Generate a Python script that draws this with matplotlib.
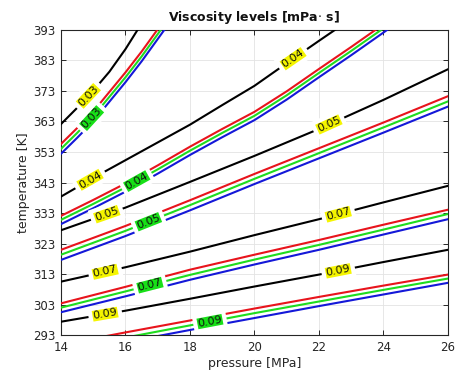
import numpy as np
import matplotlib
matplotlib.use("Agg")
import matplotlib.pyplot as plt

# viscosity levels [mPa s]
levels = ["0.03", "0.04", "0.05", "0.07", "0.09"]

# pressure grids [MPa] for each level
p_003 = [14, 14.5, 15, 15.5, 16, 16.5, 17, 17.5]
p_004 = [14, 15, 16, 17, 18, 19, 20, 21, 22, 23, 24, 25]
p_005 = [14, 16, 18, 20, 22, 24, 26]
p_007 = [14, 16, 18, 20, 22, 24, 26]
p_009 = [14, 16, 18, 20, 22, 24, 26]

# temperature [K] of each contour (black set, and red / green / blue set)
t_003_black = [362.1, 367.4, 373.0, 379.2, 386.6, 395.0, 404.0, 413.0]
t_003_red = [355.6, 360.8, 366.2, 372.6, 379.0, 385.8, 393.1, 400.4]
t_003_green = [354.0, 359.2, 364.6, 371.0, 377.4, 384.2, 391.5, 398.8]
t_003_blue = [352.4, 357.6, 363.0, 369.4, 375.8, 382.6, 389.9, 397.2]

t_004_black = [338.4, 344.5, 350.3, 356.1, 361.9, 368.3, 374.6, 382.0, 389.3, 396.5, 404.0, 411.0]
t_004_red = [332.1, 337.3, 342.7, 348.6, 354.7, 360.5, 366.1, 372.8, 380.1, 387.3, 394.7, 402.3]
t_004_green = [330.8, 336.0, 341.4, 347.3, 353.4, 359.2, 364.8, 371.5, 378.8, 386.0, 393.4, 401.0]
t_004_blue = [329.4, 334.6, 340.0, 345.9, 352.0, 357.8, 363.4, 370.1, 377.4, 384.6, 392.0, 399.6]

t_005_black = [327.4, 334.8, 343.2, 351.7, 360.5, 370.0, 380.0]
t_005_red = [321.0, 328.8, 337.2, 345.8, 354.2, 362.6, 371.2]
t_005_green = [319.4, 327.2, 335.6, 344.2, 352.6, 361.0, 369.5]
t_005_blue = [317.7, 325.5, 333.9, 342.5, 350.9, 359.3, 367.8]

t_007_black = [310.6, 315.3, 320.4, 325.8, 331.0, 336.5, 341.9]
t_007_red = [303.5, 308.9, 314.5, 319.4, 324.2, 329.2, 334.1]
t_007_green = [302.1, 307.4, 312.8, 317.8, 322.6, 327.6, 332.7]
t_007_blue = [300.6, 305.8, 311.2, 316.2, 321.0, 326.0, 331.0]

t_009_black = [297.5, 301.1, 305.0, 309.0, 312.9, 317.0, 321.0]
t_009_red = [290.0, 294.0, 297.9, 301.8, 305.6, 309.3, 312.9]
t_009_green = [288.3, 292.3, 296.3, 300.3, 304.1, 307.9, 311.6]
t_009_blue = [286.8, 290.8, 294.8, 298.7, 302.6, 306.4, 310.2]

# pressures where the labels sit
lab_black_003 = [14.85]
lab_black_004 = [14.9, 21.2]
lab_black_005 = [15.42, 22.31]
lab_black_007 = [15.37, 22.6]
lab_black_009 = [15.37, 22.6]
lab_green = [14.95, 16.35, 16.71, 16.76, 18.62]

xticks = [14, 16, 18, 20, 22, 24, 26]
yticks = [293, 303, 313, 323, 333, 343, 353, 363, 373, 383, 393]

pgrids = [p_003, p_004, p_005, p_007, p_009]
blacks = [t_003_black, t_004_black, t_005_black, t_007_black, t_009_black]
reds = [t_003_red, t_004_red, t_005_red, t_007_red, t_009_red]
greens = [t_003_green, t_004_green, t_005_green, t_007_green, t_009_green]
blues = [t_003_blue, t_004_blue, t_005_blue, t_007_blue, t_009_blue]
black_labs = [lab_black_003, lab_black_004, lab_black_005, lab_black_007, lab_black_009]

RED = "#e8141c"
GREEN = "#1fdc1f"
BLUE = "#1418d8"
YELLOW = "#f5f500"
LABGREEN = "#18e018"

fig = plt.figure(figsize=(4.57, 3.74), dpi=100)
ax = fig.add_axes([0.1335, 0.103, 0.8465, 0.818])
ax.set_xlim(14, 26)
ax.set_ylim(293, 393)


def put_label(p, t, at, txt, face):
    y = np.interp(at, p, t)
    x0, y0 = ax.transData.transform((at - 0.15, np.interp(at - 0.15, p, t)))
    x1, y1 = ax.transData.transform((at + 0.15, np.interp(at + 0.15, p, t)))
    ang = np.degrees(np.arctan2(y1 - y0, x1 - x0))
    ax.text(at, y, txt, rotation=ang, rotation_mode="anchor",
            ha="center", va="center", fontsize=8, color="#111111",
            bbox=dict(boxstyle="square,pad=0.22", fc=face, ec="white", lw=3),
            zorder=6)


for i in range(len(levels)):
    p = pgrids[i]
    ax.plot(p, blacks[i], color="black", lw=1.5, zorder=3)
    ax.plot(p, reds[i], color=RED, lw=1.5, zorder=3)
    ax.plot(p, greens[i], color=GREEN, lw=1.5, zorder=3)
    ax.plot(p, blues[i], color=BLUE, lw=1.5, zorder=3)

for i in range(len(levels)):
    for at in black_labs[i]:
        put_label(pgrids[i], blacks[i], at, levels[i], YELLOW)
    put_label(pgrids[i], greens[i], lab_green[i], levels[i], LABGREEN)

ax.set_xticks(xticks)
ax.set_yticks(yticks)
ax.grid(True, color="#e3e3e3", lw=0.6)
ax.set_axisbelow(True)
ax.tick_params(direction="in", length=3.5, width=0.7, colors="#262626",
               labelsize=8.5, top=True, right=True, pad=4)
for s in ax.spines.values():
    s.set_color("#262626")
    s.set_linewidth(0.8)

ax.set_xlabel("pressure [MPa]", fontsize=9, color="#262626", labelpad=2)
ax.set_ylabel("temperature [K]", fontsize=9, color="#262626", labelpad=2)
ax.set_title("Viscosity levels [mPa$\\cdot$ s]", fontsize=9, fontweight="bold",
             color="#111111", pad=6)

fig.savefig("out.png", dpi=100)
